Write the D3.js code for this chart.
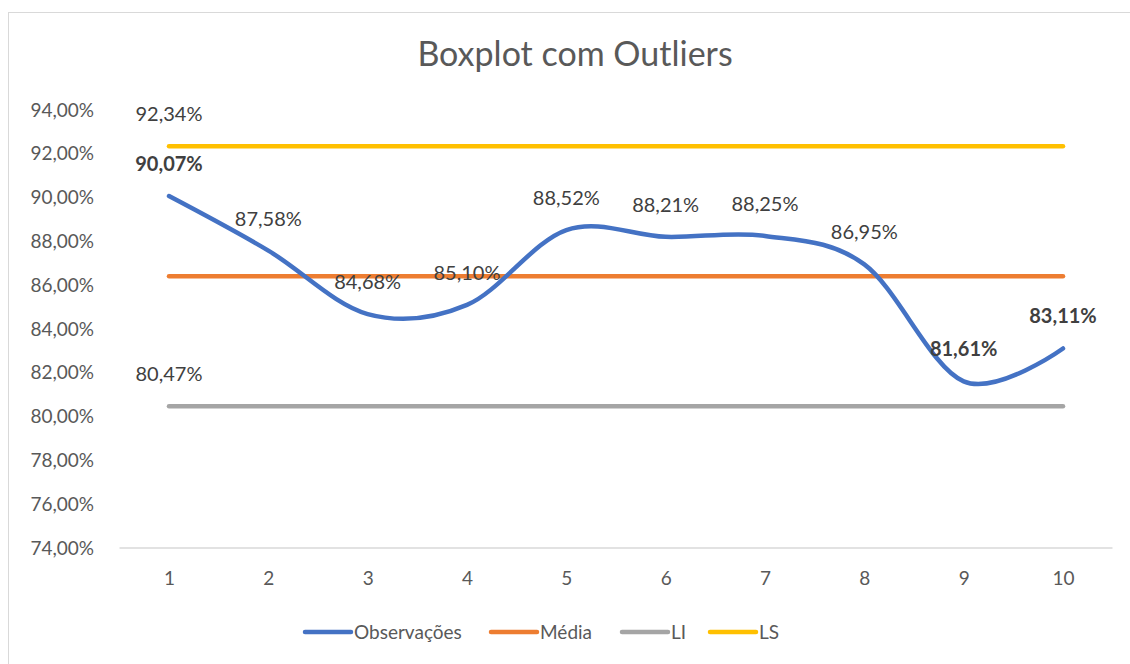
<!DOCTYPE html>
<html><head><meta charset="utf-8">
<script src="https://cdn.jsdelivr.net/npm/d3@7"></script>
<style>body{margin:0;background:#fff}svg{display:block}text{font-family:Lato,sans-serif}</style>
</head><body>
<svg id="c" width="1130" height="664"></svg>
<script>
const categories = [1,2,3,4,5,6,7,8,9,10];
const observacoes = [90.07,87.58,84.68,85.10,88.52,88.21,88.25,86.95,81.61,83.11];
const media = 86.408;
const li = 80.47;
const ls = 92.34;
const yTicks = [74,76,78,80,82,84,86,88,90,92,94];
const boldIdx = [0,8,9];

const svg = d3.select("#c");
const fmt = v => v.toFixed(2).replace(".", ",") + "%";
const FS = 19;
const LFS = 20;

svg.append("rect").attr("x",8.5).attr("y",12.5).attr("width",1130).attr("height",700)
  .attr("fill","#fff").attr("stroke","#d9d9d9");

const x = d3.scalePoint().domain(categories).range([169,1063]);
const y = d3.scaleLinear().domain([74,94]).range([548,110]);

svg.append("text").attr("x",575).attr("y",66).attr("text-anchor","middle")
  .attr("font-size",34).attr("fill","#595959").text("Boxplot com Outliers");

// y axis labels
const yAx = d3.axisLeft(y).tickValues(yTicks).tickSize(0).tickPadding(0)
  .tickFormat(d => d.toFixed(2).replace(".", ",") + "%");
const gy = svg.append("g").attr("transform","translate(94,0)").call(yAx);
gy.select(".domain").remove();
gy.selectAll("text").attr("font-size",FS).attr("fill","#595959").attr("font-family","Lato");

// x axis
const xAx = d3.axisBottom(x).tickSize(0).tickPadding(24);
const gx = svg.append("g").attr("transform","translate(0,548)").call(xAx);
gx.select(".domain").attr("d","M119.5,0H1112.5").attr("stroke","#d9d9d9").attr("stroke-width",1.5);
gx.selectAll("text").attr("font-size",FS).attr("fill","#595959").attr("font-family","Lato");

// constant lines
const consts = [{v:media,c:"#ED7D31"},{v:li,c:"#A5A5A5"},{v:ls,c:"#FFC000"}];
consts.forEach(s=>{
  const line = d3.line().x(d=>x(d)).y(()=>y(s.v));
  svg.append("path").attr("d",line(categories)).attr("fill","none")
    .attr("stroke",s.c).attr("stroke-width",4.5).attr("stroke-linecap","round");
});

// observations
const obsLine = d3.line().x((d,i)=>x(categories[i])).y(d=>y(d)).curve(d3.curveCardinal.tension(0));
svg.append("path").attr("d",obsLine(observacoes)).attr("fill","none")
  .attr("stroke","#4472C4").attr("stroke-width",4.5).attr("stroke-linecap","round").attr("stroke-linejoin","round");

// labels
const lab = svg.append("g").attr("font-size",LFS).attr("fill","#404040").attr("text-anchor","middle");
observacoes.forEach((v,i)=>{
  lab.append("text").attr("x",x(categories[i])).attr("y",y(v)-25)
    .attr("font-weight",boldIdx.includes(i)?"bold":"normal").text(fmt(v));
});
lab.append("text").attr("x",x(categories[0])).attr("y",y(ls)-25).text(fmt(ls));
lab.append("text").attr("x",x(categories[0])).attr("y",y(li)-25).text(fmt(li));

// legend
const legend = [{n:"Observações",c:"#4472C4",x:305},{n:"Média",c:"#ED7D31",x:491},{n:"LI",c:"#A5A5A5",x:622},{n:"LS",c:"#FFC000",x:710}];
legend.forEach(l=>{
  svg.append("line").attr("x1",l.x).attr("x2",l.x+46).attr("y1",632).attr("y2",632)
    .attr("stroke",l.c).attr("stroke-width",4.5).attr("stroke-linecap","round");
  svg.append("text").attr("x",l.x+49).attr("y",639).attr("font-size",FS).attr("fill","#595959").text(l.n);
});
</script>
</body></html>
